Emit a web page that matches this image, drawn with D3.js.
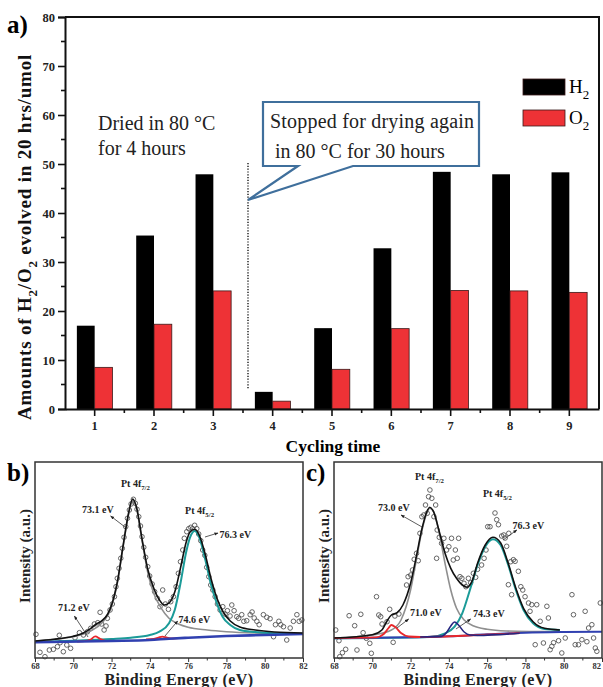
<!DOCTYPE html>
<html>
<head>
<meta charset="utf-8">
<script src="https://cdn.jsdelivr.net/npm/d3@7.9.0/dist/d3.min.js"></script>
<style>
  body { margin: 0; background: #fff; }
  svg { display: block; }
  text { font-family: "Liberation Serif", "Times New Roman", serif; }
</style>
</head>
<body>
<div id="chart"></div>
<script>
// ---- panel a: gas evolution per cycle ----
const cycles = ["1", "2", "3", "4", "5", "6", "7", "8", "9"];
const h2Values = [17.0, 35.4, 47.9, 3.5, 16.5, 32.8, 48.4, 47.9, 48.3];
const o2Values = [8.5, 17.3, 24.1, 1.6, 8.1, 16.4, 24.2, 24.1, 23.8];
const amountTicks = [0, 10, 20, 30, 40, 50, 60, 70, 80];
const amountMinor = [5, 15, 25, 35, 45, 55, 65, 75];

// ---- panels b, c: Pt 4f XPS, [binding energy eV, intensity a.u.] ----
const energyTicks = [68, 70, 72, 74, 76, 78, 80, 82];
const energyMinor = [69, 71, 73, 75, 77, 79, 81];

const bPoints = [
  [68.05, 23.7], [68.26, 5.7], [68.52, 1.3], [68.75, 8], [68.96, 8.7], [69.17, 11.3], [69.31, 15.3],
  [69.48, 6.3], [69.66, 13], [69.86, 9.7], [70.09, 20.3], [69.27, 22.7], [70.32, 25.3], [70.53, 23],
  [70.74, 26.3], [70.91, 29.7], [71.10, 34], [71.28, 35.3], [71.40, 45.7], [71.48, 34], [71.61, 28],
  [71.71, 32], [71.78, 39.7], [71.92, 48], [72.04, 54], [72.15, 61.3], [72.23, 71.3], [72.30, 79.7],
  [72.39, 89.7], [72.48, 99.7], [72.56, 109.7], [72.65, 120.7], [72.74, 131.3], [72.83, 139.7],
  [72.93, 148], [73.02, 154], [73.14, 158.7], [73.24, 154.7], [73.33, 148.7], [73.42, 141.3],
  [73.51, 132], [73.59, 121.3], [73.68, 110.7], [73.78, 100.7], [73.89, 91.3], [73.99, 82],
  [74.12, 74], [74.25, 66.3], [74.39, 59.7], [74.53, 51.3], [74.67, 68], [74.81, 54], [74.97, 48.7],
  [75.09, 56.3], [75.23, 61.3], [75.37, 71.3], [75.49, 84.7], [75.60, 96.3], [75.72, 108],
  [75.80, 119.7], [75.93, 126.3], [76.03, 129.3], [76.14, 130.7], [76.24, 129.3], [76.34, 132.7],
  [76.45, 129.3], [76.55, 124], [76.66, 117.3], [76.76, 108], [76.87, 102.7], [76.97, 90.7],
  [77.08, 81.3], [77.18, 73], [77.29, 68], [77.41, 61.3], [77.53, 54], [77.67, 48], [77.81, 51.3],
  [77.93, 44], [78.05, 47.3], [78.19, 42], [78.28, 53], [78.40, 47.3], [78.54, 41.3], [78.64, 39.7],
  [78.80, 43.3], [78.91, 36.7], [79.06, 37.3], [79.24, 43.3], [79.34, 46], [79.45, 40], [79.59, 36.7],
  [79.71, 33.3], [79.93, 43.3], [80.11, 40.7], [80.28, 39.3], [80.46, 21.3], [80.56, 33.3],
  [80.74, 36.7], [80.84, 33.3], [80.98, 31.3], [81.15, 18], [81.33, 30], [81.50, 36.7], [81.68, 43.3],
  [81.80, 36.7], [81.94, 38]
];
const bTotal = [
  [68, 17], [69, 18.7], [70, 21.7], [70.5, 24.7], [70.9, 29.3], [71.2, 34], [71.5, 37.3], [71.8, 44],
  [72, 53], [72.3, 76], [72.6, 112], [72.9, 146], [73.1, 159], [73.3, 151], [73.6, 118], [73.9, 88],
  [74.2, 70], [74.5, 58], [74.75, 53], [75, 55], [75.3, 66], [75.6, 90], [75.9, 116], [76.1, 126],
  [76.35, 128.7], [76.6, 122], [76.9, 103], [77.2, 79], [77.5, 60], [77.8, 47], [78.2, 37], [78.7, 31],
  [79.5, 28], [80.5, 26], [82, 25]
];
const bPeak73 = [
  [68, 17], [69, 18.7], [70, 21.3], [70.5, 23.7], [71, 28], [71.5, 35.3], [72, 51.3], [72.3, 74.7],
  [72.6, 111], [72.9, 144.7], [73.1, 158], [73.3, 149.7], [73.6, 116.3], [73.9, 84.7], [74.2, 64.7],
  [74.6, 49.7], [75, 39.7], [75.5, 34], [76, 30.7], [77, 28], [78, 26.3], [80, 24.7], [82, 24]
];
const bPeak76 = [
  [68, 16], [70, 17.3], [72, 19], [73, 20.3], [74, 23], [74.5, 26.3], [75, 34.7], [75.3, 48],
  [75.6, 74.7], [75.9, 106.3], [76.1, 120.7], [76.35, 127], [76.6, 119.7], [76.9, 98], [77.2, 73],
  [77.5, 54.7], [77.8, 41.3], [78.2, 33], [78.7, 28], [79.5, 26], [80.5, 24.7], [82, 24]
];
const bPeak71 = [[70.2, 16.5], [70.6, 16.8], [70.9, 18.4], [71.15, 21.6], [71.4, 19.2], [71.7, 17.2], [72, 17.4]];
const bPeak74 = [[73.8, 18.5], [74.2, 19], [74.45, 20.4], [74.65, 21.4], [74.9, 20.3], [75.2, 19.5], [75.5, 19.8]];
const bBackground = [[68, 15.7], [72, 17], [74, 18], [75, 19.3], [76, 20.3], [78, 22], [80, 23], [82, 24]];

const cPoints = [
  [68.09, 28], [68.26, 17.3], [68.44, 5.3], [68.30, 1.3], [68.61, 8.7], [68.79, 42.3], [69.08, 32.3],
  [69.20, 8], [69.40, 43.7], [69.52, 25.3], [69.69, 19.7], [69.87, 14.7], [69.95, 4.7], [70.22, 61.3],
  [70.34, 43], [70.44, 41.3], [70.51, 34], [70.77, 36.3], [70.91, 48.7], [71.09, 15.7], [71.18, 42],
  [71.39, 44], [71.79, 73], [71.87, 81.3], [72.01, 83], [72.10, 88], [72.19, 98.7], [72.31, 104.7],
  [72.40, 97.3], [72.49, 124.7], [72.59, 141.3], [72.69, 143], [72.78, 153], [72.87, 144.7],
  [72.94, 161.3], [73.01, 168], [73.11, 159.7], [73.22, 141.3], [73.31, 153], [73.39, 128],
  [73.36, 99.7], [73.50, 120.7], [73.62, 114.7], [73.74, 119.7], [73.88, 108], [74.00, 111.3],
  [74.14, 119.7], [74.23, 98], [74.34, 108], [74.44, 99.7], [74.51, 119.7], [74.58, 81.3],
  [74.68, 79.7], [74.79, 74.7], [74.89, 71.3], [75.02, 79.7], [75.14, 75.3], [75.28, 84.7],
  [75.40, 80.7], [75.50, 88.7], [75.71, 93], [75.84, 99.7], [75.94, 108], [76.03, 131.3],
  [76.15, 131.3], [76.41, 145], [76.50, 138.3], [76.59, 133.3], [76.76, 122], [76.87, 123],
  [76.94, 120], [77.02, 111.7], [77.13, 124.7], [77.23, 96.3], [77.37, 98.3], [77.46, 96.7],
  [77.63, 86.7], [77.11, 73.3], [77.28, 63.3], [77.76, 71.3], [77.86, 68], [77.98, 61.3],
  [78.16, 55], [78.33, 53.3], [78.24, 46.7], [78.59, 53.3], [78.77, 36.7], [79.12, 51.7], [79.20, 40],
  [78.51, 13.3], [78.94, 15], [79.29, 8.3], [79.38, 11.7], [79.47, 15.3], [79.90, 5], [79.73, 17.3],
  [80.08, 20], [80.43, 63.3], [80.51, 43.3], [80.60, 13.3], [80.77, 13.3], [80.95, 18.3],
  [81.12, 46.7], [81.21, 16.3], [81.30, 30], [81.47, 33.3], [81.56, 20], [81.65, 10], [81.73, 6.7],
  [81.91, 55]
];
const cTotal = [
  [68, 20], [70, 23.3], [70.5, 28], [70.8, 38], [71.0, 43], [71.3, 45.3], [71.6, 53], [72, 74.7],
  [72.3, 101.3], [72.6, 129.7], [72.85, 146.3], [73.0, 150.7], [73.2, 146.3], [73.5, 126.3],
  [73.8, 104.7], [74.1, 89.7], [74.4, 79.7], [74.7, 73], [74.95, 70.7], [75.2, 76.3], [75.5, 94.7],
  [75.9, 113], [76.3, 120.7], [76.7, 115.3], [77.1, 94.7], [77.5, 69.7], [77.9, 49.7], [78.4, 36.3],
  [79, 29.7], [79.8, 28]
];
const cPeak73 = [
  [68, 20], [70, 23], [71, 28], [71.5, 38], [72, 68], [72.3, 98], [72.6, 128], [72.85, 144.7],
  [73.0, 149.7], [73.2, 146.3], [73.5, 124.7], [73.8, 94.7], [74.1, 68], [74.4, 49.7], [74.8, 38],
  [75.3, 32], [76, 28.7], [77, 27], [78.5, 26.5], [79.8, 26.3]
];
const cPeak76 = [
  [68, 19.7], [73, 21], [73.8, 24.7], [74.3, 31.3], [74.7, 44.7], [75.1, 68], [75.5, 93], [75.9, 111.3],
  [76.3, 118.7], [76.7, 113], [77.1, 93], [77.5, 68], [77.9, 48], [78.4, 34.7], [79, 29], [79.8, 28]
];
const cPeak71 = [
  [68, 20], [70.2, 20.6], [70.6, 24], [70.85, 30], [71.0, 33], [71.2, 31], [71.5, 25], [71.9, 21.5],
  [72.5, 21], [75, 22.5], [77.7, 24.8]
];
const cPeak74 = [
  [72.5, 21], [73.6, 21.6], [73.9, 26], [74.1, 32], [74.3, 36], [74.5, 33], [74.8, 26], [75.1, 23],
  [75.5, 22.6], [77.7, 24.8]
];
const cBackground = [[68, 19.7], [72, 20.7], [74, 21.7], [76, 23.7], [78, 25.3], [80, 26], [82, 26.3]];

const svg = d3.select("#chart").append("svg")
  .attr("width", 603)
  .attr("height", 687);

svg.append("defs").append("marker")
  .attr("id", "arrow")
  .attr("viewBox", "0 0 10 10")
  .attr("refX", 9).attr("refY", 5)
  .attr("markerWidth", 5).attr("markerHeight", 5)
  .attr("orient", "auto")
  .append("path")
  .attr("d", "M0,1 L10,5 L0,9 z")
  .attr("fill", "#222");

// text with subscript parts: [["H", false], ["2", true]]
function richText(g, parts, size, attrs) {
  const t = g.append("text").attr("font-size", size);
  Object.entries(attrs).forEach(([k, v]) => t.attr(k, v));
  let sub = false;
  parts.forEach(([s, isSub]) => {
    const span = t.append("tspan").text(s);
    if (isSub) span.attr("font-size", size * 0.68);
    if (isSub !== sub) span.attr("dy", isSub ? size * 0.3 : -size * 0.3);
    sub = isSub;
  });
  return t;
}

// ================= panel a =================
const xA = d3.scaleBand().domain(cycles).range([65, 599]);
const yA = d3.scaleLinear().domain([0, 80]).range([409, 17]);
const barW = xA.bandwidth() * 0.3;
const mid = (c) => xA(c) + xA.bandwidth() / 2;

const gA = svg.append("g");

gA.selectAll(".h2").data(cycles).join("rect")
  .attr("class", "h2")
  .attr("x", (c) => mid(c) - barW)
  .attr("y", (c, i) => yA(h2Values[i]))
  .attr("width", barW)
  .attr("height", (c, i) => yA(0) - yA(h2Values[i]))
  .attr("fill", "#000");

gA.selectAll(".o2").data(cycles).join("rect")
  .attr("class", "o2")
  .attr("x", (c) => mid(c))
  .attr("y", (c, i) => yA(o2Values[i]))
  .attr("width", barW)
  .attr("height", (c, i) => yA(0) - yA(o2Values[i]))
  .attr("fill", "#ee3236")
  .attr("stroke", "#3a1a1a")
  .attr("stroke-width", 0.8);

// frame top/right
gA.append("path")
  .attr("d", `M65,17 H599 V409`)
  .attr("fill", "none").attr("stroke", "#111").attr("stroke-width", 2);

const axY = gA.append("g")
  .attr("transform", "translate(65,0)")
  .call(d3.axisLeft(yA).tickValues(amountTicks).tickSize(7).tickPadding(3));
axY.selectAll(".minor").data(amountMinor).join("line")
  .attr("class", "minor")
  .attr("x1", -4).attr("x2", 0)
  .attr("y1", (d) => yA(d)).attr("y2", (d) => yA(d))
  .attr("stroke", "#111").attr("stroke-width", 1.6);

const axX = gA.append("g")
  .attr("transform", "translate(0,409)")
  .call(d3.axisBottom(xA).tickSize(7).tickPadding(5).tickSizeOuter(0));
axX.selectAll(".minor").data(cycles.slice(1)).join("line")
  .attr("class", "minor")
  .attr("x1", (c) => xA(c)).attr("x2", (c) => xA(c))
  .attr("y1", 0).attr("y2", 4)
  .attr("stroke", "#111").attr("stroke-width", 1.6);

[axY, axX].forEach((ax) => {
  ax.select(".domain").attr("stroke", "#111").attr("stroke-width", 2);
  ax.selectAll(".tick line").attr("stroke", "#111").attr("stroke-width", 1.6);
  ax.selectAll(".tick text")
    .attr("font-family", "Liberation Serif, serif")
    .attr("font-weight", "bold").attr("font-size", 12.5).attr("fill", "#222");
});

gA.append("text")
  .attr("x", 333).attr("y", 452)
  .attr("text-anchor", "middle")
  .attr("font-size", 17.5).attr("font-weight", "bold")
  .text("Cycling time");

richText(gA, [["Amounts of H", false], ["2", true], ["/O", false], ["2", true], [" evolved in 20 hrs/umol", false]], 19,
  { transform: "translate(31,237) rotate(-90)", "text-anchor": "middle", "font-weight": "bold", fill: "#111",
    "letter-spacing": 0.8 });

gA.append("text").attr("x", 7).attr("y", 33)
  .attr("font-size", 25).attr("font-weight", "bold").text("a)");

// legend
const legend = gA.append("g");
[["H", "#000", 79], ["O", "#ee3236", 110]].forEach(([name, col, top]) => {
  legend.append("rect")
    .attr("x", 523).attr("y", top).attr("width", 42).attr("height", 16)
    .attr("fill", col).attr("stroke", "#3a1a1a").attr("stroke-width", 0.8);
  richText(legend, [[name, false], ["2", true]], 19, { x: 569, y: top + 14 });
});

// annotations
gA.append("text").attr("x", 98).attr("y", 130).attr("font-size", 20).attr("fill", "#222").text("Dried in 80 °C");
gA.append("text").attr("x", 98).attr("y", 155).attr("font-size", 20).attr("fill", "#222").text("for 4 hours");

const sepX = (xA("3") + xA.bandwidth() + xA("4")) / 2 + 5;
gA.append("line")
  .attr("x1", sepX).attr("x2", sepX)
  .attr("y1", 163).attr("y2", 389)
  .attr("stroke", "#333").attr("stroke-width", 1.6).attr("stroke-dasharray", "1.2,1.6");

gA.append("path")
  .attr("d", `M263,102 H479 V166 H353 L${sepX},200 L298,166 H263 Z`)
  .attr("fill", "#fff").attr("stroke", "#3f6f9c").attr("stroke-width", 2.2);
gA.append("text").attr("x", 270).attr("y", 128).attr("font-size", 20).attr("fill", "#222")
  .attr("letter-spacing", 0.2).text("Stopped for drying again");
gA.append("text").attr("x", 275).attr("y", 158).attr("font-size", 20).attr("fill", "#222").text("in 80 °C for 30 hours");

// ================= panels b and c =================
function drawXps(cfg) {
  const x = d3.scaleLinear().domain([68, 82]).range([cfg.left, cfg.right]);
  const y = d3.scaleLinear().domain([0, 196]).range([658, 462]);
  const g = svg.append("g");
  const line = d3.line().x((d) => x(d[0])).y((d) => y(d[1])).curve(d3.curveMonotoneX);

  g.selectAll("circle").data(cfg.points).join("circle")
    .attr("cx", (d) => x(d[0])).attr("cy", (d) => y(d[1]))
    .attr("r", 2.3)
    .attr("fill", "none").attr("stroke", "#555").attr("stroke-width", 0.9);

  cfg.curves.forEach((c) => {
    g.append("path").datum(c.data)
      .attr("d", line)
      .attr("fill", "none").attr("stroke", c.color).attr("stroke-width", c.width);
  });

  g.append("rect")
    .attr("x", cfg.left).attr("y", 462)
    .attr("width", cfg.right - cfg.left).attr("height", 196)
    .attr("fill", "none").attr("stroke", "#333").attr("stroke-width", 1.5);

  const ax = g.append("g").attr("transform", "translate(0,658)")
    .call(d3.axisBottom(x).tickValues(energyTicks).tickSize(4).tickPadding(1).tickSizeOuter(0));
  ax.select(".domain").remove();
  ax.selectAll(".tick line").attr("stroke", "#333");
  ax.selectAll(".tick text")
    .attr("font-family", "Liberation Serif, serif")
    .attr("font-weight", "bold").attr("font-size", 8.5).attr("fill", "#333");
  // keep the last label inside the picture when the panel touches the edge
  if (cfg.right > 596) {
    ax.selectAll(".tick text").filter((d) => d === 82).attr("text-anchor", "end").attr("dx", -1.5);
  }
  ax.selectAll(".minor").data(energyMinor).join("line")
    .attr("class", "minor")
    .attr("x1", (d) => x(d)).attr("x2", (d) => x(d))
    .attr("y1", 0).attr("y2", 2.5).attr("stroke", "#333");

  g.append("text")
    .attr("x", (cfg.left + cfg.right) / 2 + 10).attr("y", 685)
    .attr("text-anchor", "middle")
    .attr("font-size", 16).attr("font-weight", "bold").attr("fill", "#222")
    .attr("letter-spacing", 0.4)
    .text("Binding Energy (eV)");

  g.append("text")
    .attr("transform", `translate(${cfg.left - 5},${556}) rotate(-90)`)
    .attr("text-anchor", "middle")
    .attr("font-size", 15).attr("font-weight", "bold").attr("fill", "#222")
    .text("Intensity (a.u.)");

  g.append("text").attr("x", cfg.left - 28).attr("y", 481)
    .attr("font-size", 25).attr("font-weight", "bold").text(cfg.tag);

  cfg.labels.forEach((l) => {
    richText(g, l.parts, 10, { x: x(l.at[0]), y: y(l.at[1]), "font-weight": "bold", fill: "#222" });
  });
  cfg.arrows.forEach((a) => {
    g.append("line")
      .attr("x1", x(a[0][0])).attr("y1", y(a[0][1]))
      .attr("x2", x(a[1][0])).attr("y2", y(a[1][1]))
      .attr("stroke", "#333").attr("stroke-width", 0.8)
      .attr("marker-end", "url(#arrow)");
  });
}

drawXps({
  tag: "b)", left: 35, right: 303, points: bPoints,
  curves: [
    { data: bPeak73, color: "#8f8f8f", width: 1.6 },
    { data: bPeak76, color: "#1b9b98", width: 2 },
    { data: bPeak71, color: "#e8282c", width: 1.8 },
    { data: bPeak74, color: "#e8282c", width: 1.8 },
    { data: bBackground, color: "#3040b0", width: 2.6 },
    { data: bTotal, color: "#111", width: 1.6 }
  ],
  labels: [
    { parts: [["Pt 4f", false], ["7/2", true]], at: [72.49, 171] },
    { parts: [["73.1 eV", false]], at: [70.46, 145] },
    { parts: [["Pt 4f", false], ["5/2", true]], at: [75.84, 144] },
    { parts: [["76.3 eV", false]], at: [77.64, 120] },
    { parts: [["71.2 eV", false]], at: [69.2, 47] },
    { parts: [["74.6 eV", false]], at: [75.5, 35] }
  ],
  arrows: [
    [[72.70, 131], [71.95, 142]],
    [[76.88, 121], [77.56, 125]],
    [[70.77, 21], [70.06, 42]],
    [[74.79, 22], [75.45, 37]]
  ]
});

drawXps({
  tag: "c)", left: 334, right: 602, points: cPoints,
  curves: [
    { data: cPeak73, color: "#8f8f8f", width: 1.6 },
    { data: cPeak76, color: "#1b9b98", width: 2 },
    { data: cBackground, color: "#3040b0", width: 2 },
    { data: cPeak71, color: "#e8282c", width: 1.8 },
    { data: cPeak74, color: "#262680", width: 1.6 },
    { data: cTotal, color: "#111", width: 1.6 }
  ],
  labels: [
    { parts: [["Pt 4f", false], ["7/2", true]], at: [72.23, 178] },
    { parts: [["73.0 eV", false]], at: [70.30, 147] },
    { parts: [["Pt 4f", false], ["5/2", true]], at: [75.78, 161] },
    { parts: [["76.3 eV", false]], at: [77.33, 129] },
    { parts: [["71.0 eV", false]], at: [71.97, 42] },
    { parts: [["74.3 eV", false]], at: [75.26, 41] }
  ],
  arrows: [
    [[72.6, 131], [71.5, 143]],
    [[76.83, 118], [77.55, 128]],
    [[71.29, 30], [71.9, 39]],
    [[74.37, 29], [75.14, 39]]
  ]
});
</script>
</body>
</html>
